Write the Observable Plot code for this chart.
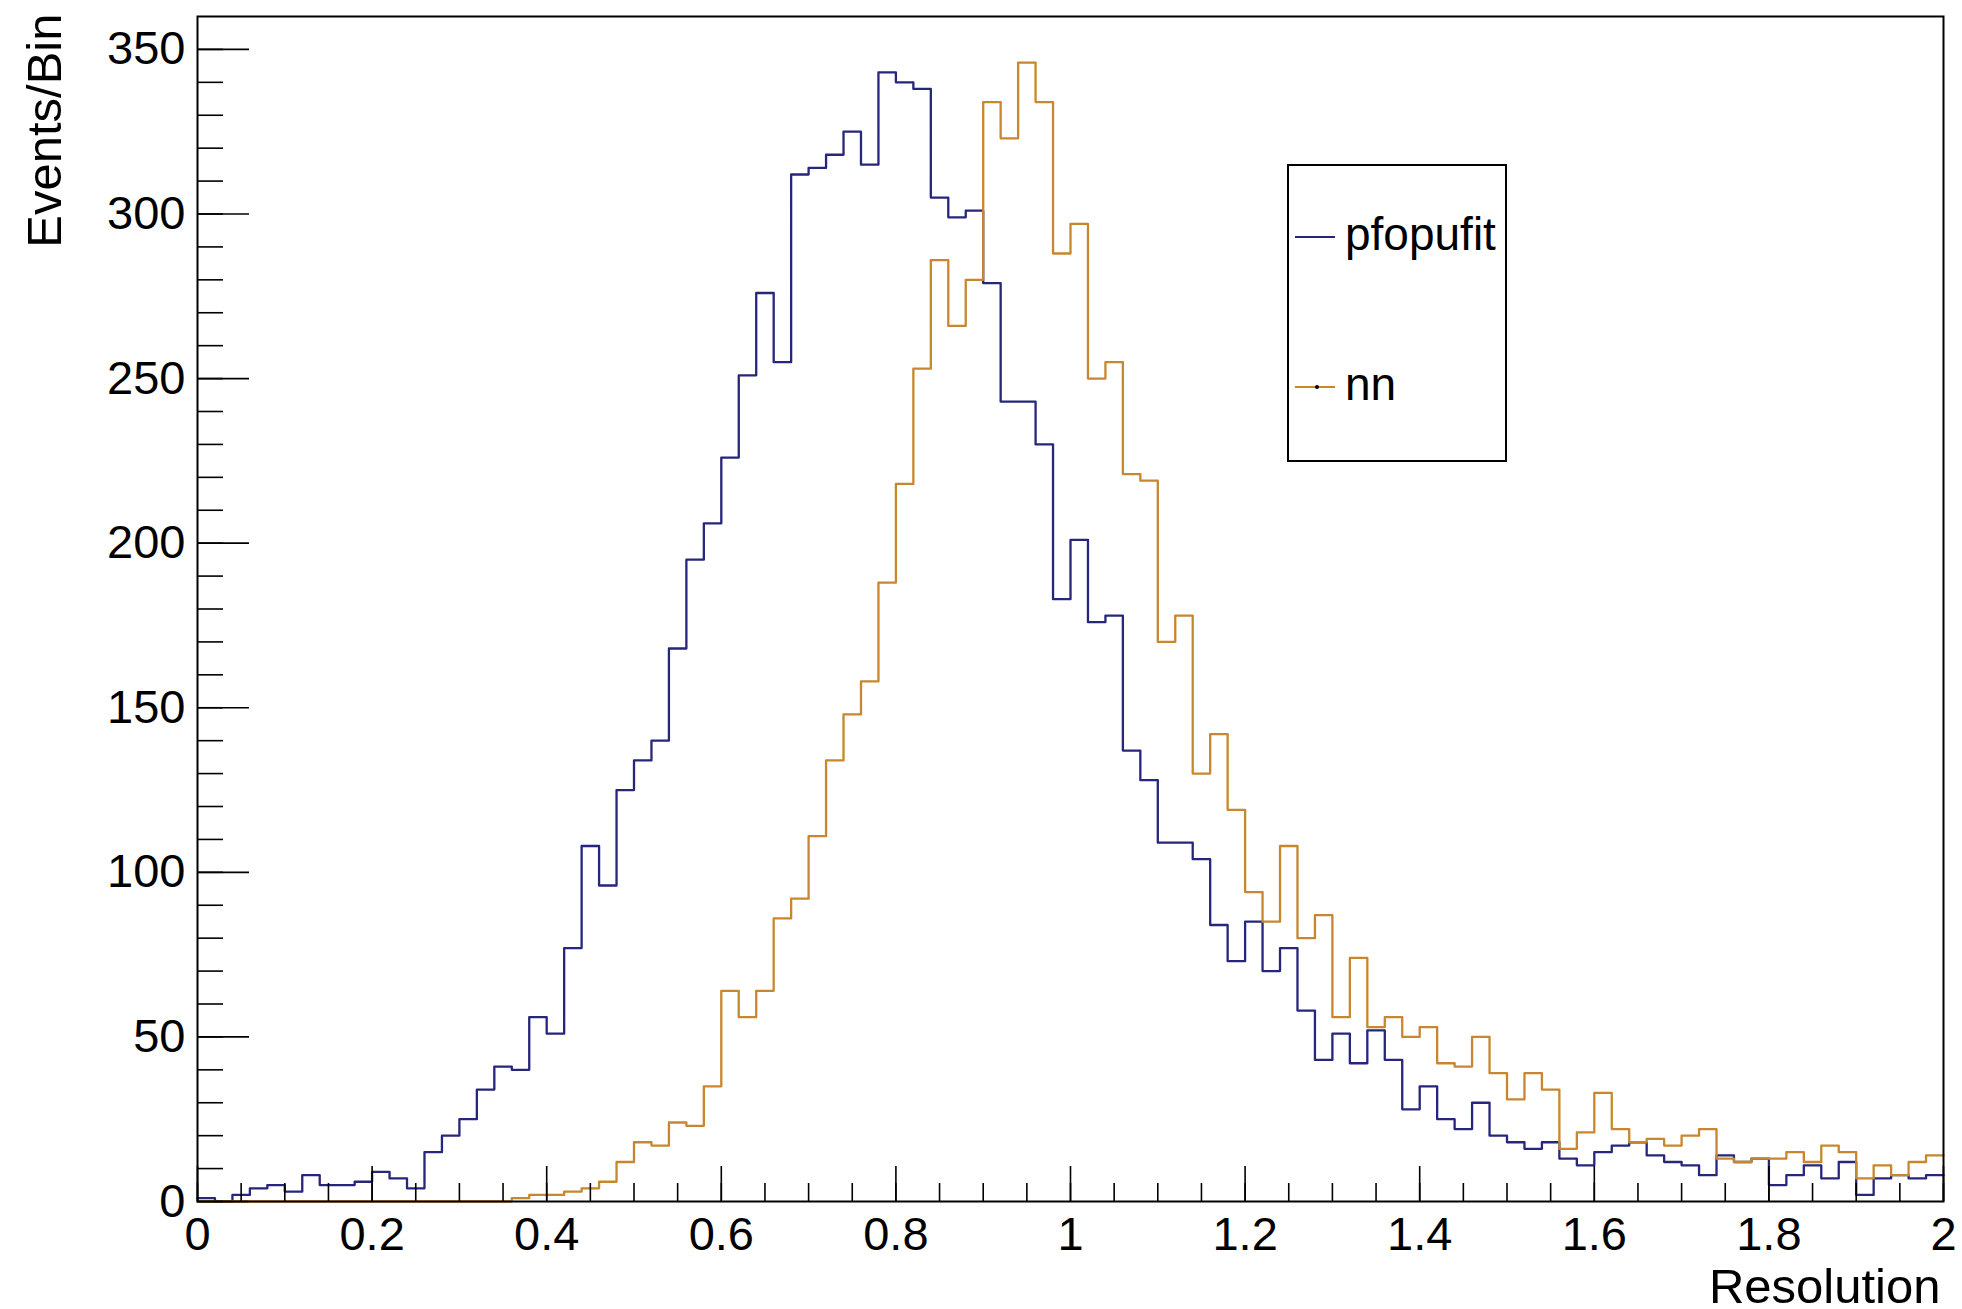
<!DOCTYPE html>
<html>
<head>
<meta charset="utf-8">
<script src="https://cdn.jsdelivr.net/npm/d3@7"></script>
<script src="https://cdn.jsdelivr.net/npm/@observablehq/plot@0.6"></script>
<style>
  body { margin: 0; background: #fff; }
  #wrap { position: relative; width: 1962px; height: 1309px; background: #fff; }
  .legend { position: absolute; left: 1287px; top: 164px; width: 216px; height: 294px;
            border: 2px solid #000; background: #fff;
            font-family: "Liberation Sans", Arial, sans-serif; font-size: 46px; color: #000; }
  .lg-line { position: absolute; height: 2px; }
  .lg-text { position: absolute; line-height: 46px; white-space: nowrap; }
  .lg-dot { position: absolute; width: 4px; height: 4px; background: #000; border-radius: 2px; }
</style>
</head>
<body>
<div id="wrap"></div>
<script>
// ---- data ----
const xMin = 0;
const binWidth = 0.02;
const seriesNames = ["pfopufit", "nn"];
const seriesColors = ["#26267c", "#c8872e"];

const pfopufit = [
  1, 0, 2, 4, 5, 3, 8, 5, 5, 6,
  9, 7, 4, 15, 20, 25, 34, 41, 40, 56,
  51, 77, 108, 96, 125, 134, 140, 168, 195, 206,
  226, 251, 276, 255, 312, 314, 318, 325, 315, 343,
  340, 338, 305, 299, 301, 279, 243, 243, 230, 183,
  201, 176, 178, 137, 128, 109, 109, 104, 84, 73,
  85, 70, 77, 58, 43, 51, 42, 52, 43, 28,
  35, 25, 22, 30, 20, 18, 16, 18, 13, 11,
  15, 17, 18, 14, 12, 11, 8, 14, 12, 13,
  5, 8, 11, 7, 12, 2, 7, 8, 7, 8
];
const nn = [
  0, 0, 0, 0, 0, 0, 0, 0, 0, 0,
  0, 0, 0, 0, 0, 0, 0, 0, 1, 2,
  2, 3, 4, 6, 12, 18, 17, 24, 23, 35,
  64, 56, 64, 86, 92, 111, 134, 148, 158, 188,
  218, 253, 286, 266, 280, 334, 323, 346, 334, 288,
  297, 250, 255, 221, 219, 170, 178, 130, 142, 119,
  94, 85, 108, 80, 87, 56, 74, 53, 56, 50,
  53, 42, 41, 50, 39, 31, 39, 34, 16, 21,
  33, 22, 18, 19, 17, 20, 22, 13, 12, 13,
  13, 15, 12, 17, 15, 7, 11, 8, 12, 14
];

const xMajorTicks = [0, 0.2, 0.4, 0.6, 0.8, 1, 1.2, 1.4, 1.6, 1.8, 2];
const xTickLabels = ["0", "0.2", "0.4", "0.6", "0.8", "1", "1.2", "1.4", "1.6", "1.8", "2"];
const xMinorTicks = d3.range(0, 41).map(i => +(i * 0.05).toFixed(2));
const yMajorTicks = [0, 50, 100, 150, 200, 250, 300, 350];
const yMinorTicks = d3.range(0, 36).map(i => i * 10);
const xTitle = "Resolution";
const yTitle = "Events/Bin";

// histogram outline points (bin left edges + final right edge)
function outline(values) {
  const pts = values.map((v, i) => ({x: xMin + i * binWidth, y: v}));
  pts.push({x: xMin + values.length * binWidth, y: values[values.length - 1]});
  return pts;
}

const noText = () => null;

const chart = Plot.plot({
  width: 1962,
  height: 1309,
  marginLeft: 197,
  marginRight: 19,
  marginTop: 16,
  marginBottom: 108,
  style: {fontFamily: "'Liberation Sans', Arial, sans-serif", background: "#fff", color: "#000", overflow: "visible"},
  x: {domain: [0, 2]},
  y: {domain: [0, 360]},
  marks: [
    Plot.line(outline(pfopufit), {x: "x", y: "y", curve: "step-after", stroke: seriesColors[0], strokeWidth: 2.3}),
    Plot.line(outline(nn), {x: "x", y: "y", curve: "step-after", stroke: seriesColors[1], strokeWidth: 2.3}),
    // x axis ticks (inward)
    Plot.axisX({ticks: xMinorTicks, tickSize: -18, tickFormat: noText, label: null, strokeWidth: 1.6}),
    Plot.axisX({ticks: xMajorTicks, tickSize: -35, tickFormat: noText, label: null, strokeWidth: 1.6}),
    Plot.axisX({ticks: xMajorTicks, tickSize: 0, tickPadding: 15, tickFormat: (d, i) => xTickLabels[i], label: null, fontSize: 47}),
    // y axis ticks (inward)
    Plot.axisY({ticks: yMinorTicks, tickSize: -26, tickFormat: noText, label: null, strokeWidth: 1.6}),
    Plot.axisY({ticks: yMajorTicks, tickSize: -52, tickFormat: noText, label: null, strokeWidth: 1.6}),
    Plot.axisY({ticks: yMajorTicks, tickSize: 0, tickPadding: 12, tickFormat: d => String(d), label: null, fontSize: 47}),
    Plot.frame({stroke: "#000", strokeWidth: 2}),
    // axis titles
    Plot.text([yTitle], {text: d => d, frameAnchor: "top-left", rotate: -90, textAnchor: "end", lineAnchor: "bottom", dx: -137, dy: -3, fontSize: 49}),
    Plot.text([xTitle], {text: d => d, frameAnchor: "bottom-right", textAnchor: "end", lineAnchor: "bottom", dx: -3, dy: 101, fontSize: 49})
  ]
});

// safety: drop any empty tick-label text nodes
d3.select(chart).selectAll("text").filter(function() { return this.textContent.trim() === "" || this.textContent === "null"; }).remove();

const wrap = document.getElementById("wrap");
wrap.appendChild(chart);

// legend (inside the frame, top right)
const legend = document.createElement("div");
legend.className = "legend";
const entries = [
  {name: seriesNames[0], color: seriesColors[0], lineY: 71, textTop: 45, dot: false},
  {name: seriesNames[1], color: seriesColors[1], lineY: 221, textTop: 195, dot: true}
];
for (const e of entries) {
  const ln = document.createElement("div");
  ln.className = "lg-line";
  ln.style.left = "6px"; ln.style.width = "40px"; ln.style.top = (e.lineY - 1) + "px";
  ln.style.background = e.color;
  legend.appendChild(ln);
  if (e.dot) {
    const dt = document.createElement("div");
    dt.className = "lg-dot";
    dt.style.left = "26px"; dt.style.top = (e.lineY - 2) + "px";
    legend.appendChild(dt);
  }
  const tx = document.createElement("div");
  tx.className = "lg-text";
  tx.style.left = "56px"; tx.style.top = e.textTop + "px";
  tx.textContent = e.name;
  legend.appendChild(tx);
}
wrap.appendChild(legend);
</script>
</body>
</html>
